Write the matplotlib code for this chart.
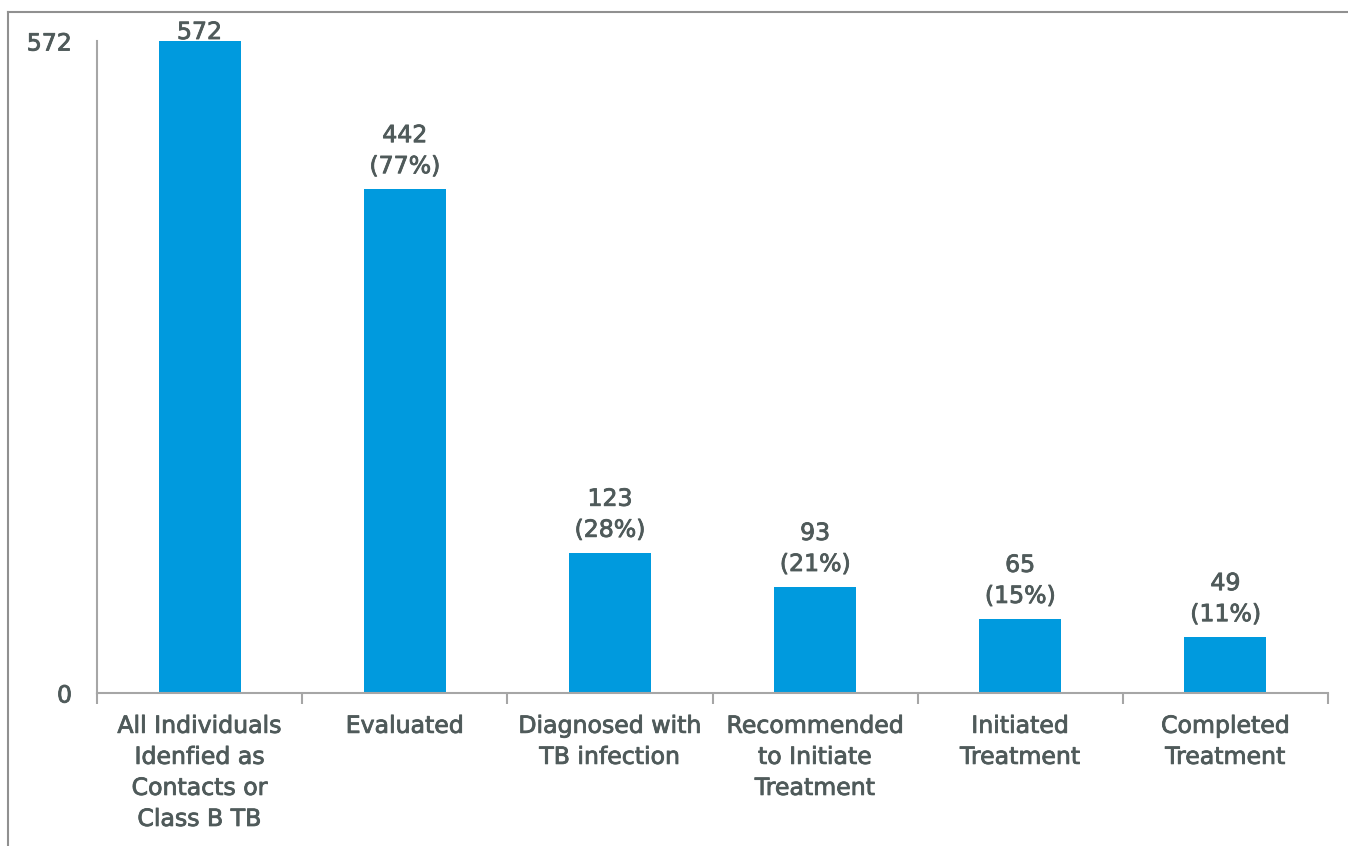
import numpy as np
import matplotlib.pyplot as plt
import matplotlib.patheffects as pe
from matplotlib.lines import Line2D

# cascade of care counts
stages = ["All Individuals\nIdenfied as\nContacts or\nClass B TB",
          "Evaluated",
          "Diagnosed with\nTB infection",
          "Recommended\nto Initiate\nTreatment",
          "Initiated\nTreatment",
          "Completed\nTreatment"]
counts = [572, 442, 123, 93, 65, 49]
pcts = [None, 77, 28, 21, 15, 11]

bar_color = "#009ADE"
text_color = "#4F5A5A"
axis_color = "#A6A6A6"
fs = 17
ls = 1.37
thick = [pe.withStroke(linewidth=0.6, foreground=text_color)]

plt.rcParams['font.family'] = ['DejaVu Sans']

fig = plt.figure(figsize=(13.48, 8.46), dpi=100)
ax = fig.add_axes([97 / 1348, 1 - 693 / 846, (1328 - 97) / 1348, (693 - 41) / 846])

x = np.arange(len(stages))
ax.bar(x, counts, width=0.4, color=bar_color, zorder=2)

for xi, c, p in zip(x, counts, pcts):
    if p is None:
        lbl, off = str(c), -3
    else:
        lbl, off = "%d\n(%d%%)" % (c, p), 11
    ax.annotate(lbl, (xi, c), xytext=(0, off), textcoords="offset pixels",
                ha="center", va="bottom", fontsize=fs, color=text_color,
                linespacing=ls, annotation_clip=False, path_effects=thick)

ax.set_xlim(-0.5, len(stages) - 0.5)
ax.set_ylim(0, 572)
ax.set_yticks([0, 572])
ax.set_yticklabels(["0", "572"])
ax.tick_params(axis="y", length=0, pad=18, labelsize=fs, labelcolor=text_color)

ax.set_xticks(x)
ax.set_xticklabels(stages, linespacing=ls)
ax.set_xticks(np.arange(-0.5, len(stages)), minor=True)
ax.tick_params(axis="x", which="major", length=0, pad=15, labelsize=fs,
               labelcolor=text_color)
ax.tick_params(axis="x", which="minor", length=8, width=1.5, color=axis_color,
               direction="out")
for t in ax.get_xticklabels() + ax.get_yticklabels():
    t.set_path_effects(thick)

for s in ["top", "right"]:
    ax.spines[s].set_visible(False)
for s in ["left", "bottom"]:
    ax.spines[s].set_color(axis_color)
    ax.spines[s].set_linewidth(1.5)

# outer frame (top and left edges only)
fig.add_artist(Line2D([8 / 1348, 1], [1 - 12 / 846, 1 - 12 / 846],
                      color="#909090", lw=1.5, transform=fig.transFigure))
fig.add_artist(Line2D([8 / 1348, 8 / 1348], [0, 1 - 12 / 846],
                      color="#909090", lw=1.5, transform=fig.transFigure))

fig.savefig("out.png", dpi=100)
